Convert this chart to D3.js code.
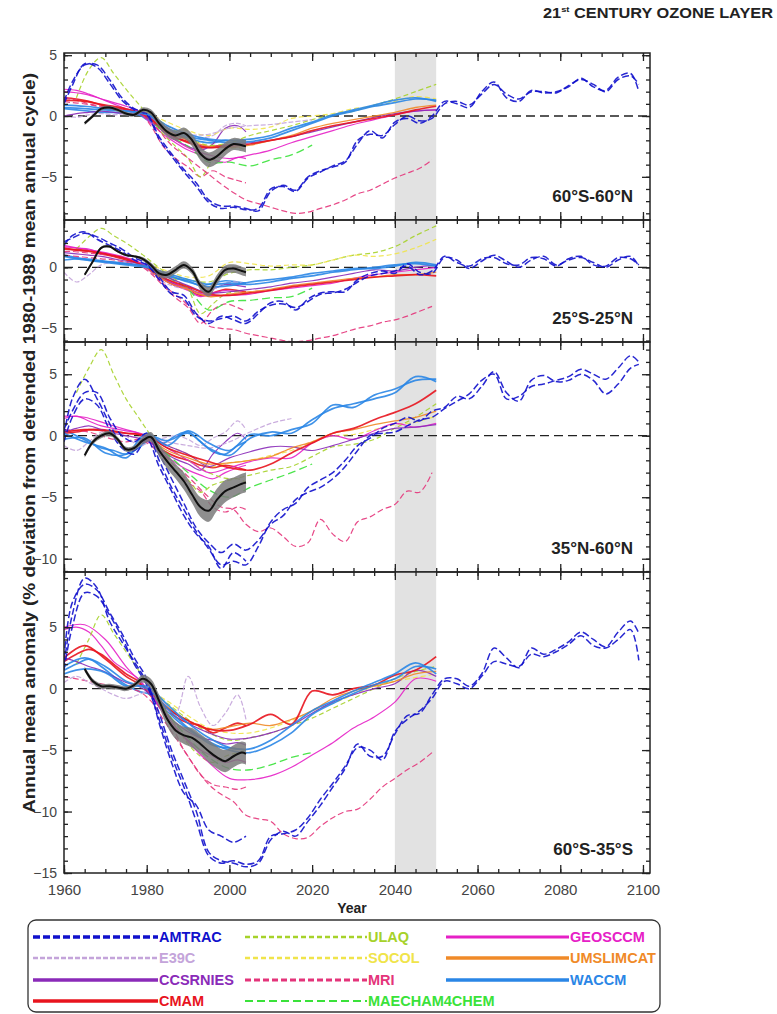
<!DOCTYPE html>
<html>
<head>
<meta charset="utf-8">
<script src="https://cdn.jsdelivr.net/npm/d3@7"></script>
<style>
  body { margin: 0; background: #fff; }
  svg { display: block; font-family: Arial, "Liberation Sans", sans-serif; }
</style>
</head>
<body>
<svg id="chart" width="777" height="1014"></svg>
<script>
"use strict";

// ---- data ----
var models = ['AMTRAC', 'E39C', 'CCSRNIES', 'CMAM', 'ULAQ', 'SOCOL', 'MRI',
  'MAECHAM4CHEM', 'GEOSCCM', 'UMSLIMCAT', 'WACCM'];

var panelNames = ['60°S-60°N', '25°S-25°N', '35°N-60°N', '60°S-35°S'];
var yTickLabels = [[5, 0, -5], [0, -5], [5, 0, -5, -10], [5, 0, -5, -10, -15]];
var xTickLabels = [1960, 1980, 2000, 2020, 2040, 2060, 2080, 2100];

// year grids used by the runs
var yrsHist = [1960,1963,1966,1969,1972,1975,1978,1981,1984,1987,1990,1993,1996,1999,2002,2004];
var yrsProj = [1960,1965,1970,1975,1980,1985,1990,1995,2000,2005,2010,2015,2020,2025,2030,2035,2040,2045,2050];
var yrsLong = [1960,1962,1965,1968,1971,1974,1977,1980,1983,1986,1989,1992,1995,1998,2001,2004,
  2007,2010,2013,2016,2019,2022,2025,2028,2031,2034,2037,2040,2043,2046,2049,2052,2055,2058,
  2061,2064,2067,2070,2073,2076,2079,2082,2085,2088,2091,2094,2097,2099];
var obsYears = [1965,1967,1969,1971,1973,1975,1977,1979,1981,1983,1985,1987,1989,1991,1993,1995,1997,1999,2001,2003,2004];

var N = null;

// 60S-60N
var runs6060 = [
  ['CMAM', 'H', [1.5,1.4,1.2,0.9,0.7,0.5,0.3,-0.3,-1.2,-1.8,-2.1,-2.6,-2.5,-2.4,-2.3,-2.2]],
  ['WACCM', 'H', [0.6,0.5,0.4,0.3,0.3,0.2,0.1,-0.5,-1.1,-1.5,-1.8,-2.1,-2.2,-2.0,-2.1,-2.0]],
  ['GEOSCCM', 'H', [2.2,2.1,1.8,1.4,1.0,0.6,0.3,-0.6,-1.5,-2.2,-2.8,-3.2,-3.6,-3.8,-3.4,-3.5]],
  ['CCSRNIES', 'H', [0.0,0.2,0.3,0.4,0.3,0.2,0.2,-0.4,-1.3,-2.0,-2.5,-2.8,-2.3,-1.0,-0.8,-1.3]],
  ['E39C', 'H', [0.0,-0.1,0.1,0.2,0.1,0.2,0.3,-0.2,-0.8,-1.2,-1.6,-1.8,-1.6,-0.8,-0.6,-0.8]],
  ['MRI', 'H', [1.5,1.3,1.0,0.8,0.6,0.5,0.4,-0.8,-2.5,-3.5,-4.2,-5.0,-4.5,-5.0,-5.3,-5.5]],
  ['ULAQ', 'H', [N,1.5,3.8,4.8,3.5,2.2,1.0,-0.2,-1.5,-2.5,-3.5,-5.0,-3.6,-2.8,-2.6,-2.8]],
  ['ULAQ', 'P', [N,N,N,N,0.3,-0.8,-1.8,-2.4,-2.2,-1.6,-1.2,-0.8,-0.3,0.1,0.4,0.9,1.4,2.0,2.6]],
  ['SOCOL', 'P', [N,N,N,N,0.3,-0.5,-1.2,-1.6,-1.0,-1.1,-0.9,-0.2,0.0,0.2,0.6,0.8,1.2,1.6,1.4]],
  ['E39C', 'P', [N,N,N,N,0.0,-0.8,-1.5,-1.5,-1.0,-0.8,-0.7,-0.5,-0.3]],
  ['MAECHAM4CHEM', 'P', [N,N,N,N,0.0,-1.5,-2.5,-3.8,-3.8,-4.1,-3.6,-3.2,-2.4]],
  ['MRI', 'L', [1.2,1.1,1.0,0.8,0.6,0.5,0.3,0.0,-1.2,-2.4,-3.2,-4.0,-4.8,-5.6,-6.3,-6.9,-7.2,-7.5,-7.8,-8.0,
    -7.9,-7.6,-7.3,-6.9,-6.4,-6.1,-5.6,-5.1,-4.7,-4.3,-3.6]],
  ['GEOSCCM', 'P', [2.0,1.8,1.3,0.8,0.1,-1.5,-2.6,-3.2,-3.5,-3.2,-2.8,-2.2,-1.7,-1.2,-0.7,-0.3,0.1,0.4,0.5]],
  ['CCSRNIES', 'P', [N,N,N,N,0.2,-1.0,-2.0,-2.6,-2.4,-2.2,-2.0,-1.7,-1.3,-0.9,-0.5,-0.1,0.2,0.4,0.5]],
  ['UMSLIMCAT', 'P', [N,N,N,N,0.0,-1.2,-2.0,-2.5,-2.6,-2.4,-2.0,-1.6,-1.0,-0.6,-0.3,0.0,0.3,0.7,0.9]],
  ['CMAM', 'P', [1.3,1.2,0.9,0.6,0.0,-1.4,-2.2,-2.6,-2.5,-2.3,-2.0,-1.7,-1.2,-0.8,-0.5,-0.2,0.1,0.5,0.8]],
  ['WACCM', 'P', [0.9,0.8,0.6,0.4,0.1,-1.0,-1.7,-2.0,-2.2,-2.1,-1.8,-1.2,-0.6,0.0,0.4,0.8,1.1,1.4,1.3]],
  ['WACCM', 'P', [0.7,0.6,0.5,0.4,0.2,-0.8,-1.5,-1.9,-2.0,-1.9,-1.6,-1.0,-0.5,0.1,0.5,0.9,1.3,1.5,1.2]],
  ['AMTRAC', 'L', [1.2,2.8,4.2,4.2,3.0,1.5,0.6,0.2,-1.7,-3.1,-4.4,-5.5,-6.9,-7.4,-7.4,-7.6,-7.8,-6.2,-5.7,-6.1,
    -5.0,-4.5,-4.2,-3.8,-2.0,-1.5,-1.6,-0.7,0.0,-0.4,-0.2,1.0,1.2,0.9,1.8,2.6,1.8,1.4,2.0,2.0,
    1.9,2.5,3.0,2.6,2.0,3.0,3.3,2.6]],
  ['AMTRAC', 'L', [1.0,2.5,4.3,4.0,2.7,1.3,0.5,0.1,-1.9,-3.3,-4.6,-5.8,-7.1,-7.6,-7.5,-7.7,-7.6,-6.0,-5.8,-6.2,
    -5.1,-4.6,-4.1,-3.7,-2.3,-1.2,-1.8,-0.5,-0.2,-0.6,0.0,1.2,1.0,0.7,2.0,2.8,1.5,1.2,2.1,1.9,
    2.0,2.4,3.1,2.4,2.1,3.2,3.5,2.0]]
];
var obs6060 = [-0.6,0.0,0.6,0.7,0.5,0.2,0.1,0.5,0.3,-0.6,-1.3,-1.6,-1.4,-2.0,-3.1,-3.6,-3.3,-2.7,-2.3,-2.4,-2.5];
var err6060 = [0.15,0.15,0.15,0.15,0.15,0.15,0.15,0.2,0.25,0.35,0.4,0.4,0.45,0.5,0.55,0.6,0.6,0.55,0.5,0.5,0.5];

// 25S-25N
var runs2525 = [
  ['CMAM', 'H', [1.6,1.4,1.3,1.1,0.9,0.6,0.3,-0.3,-1.0,-1.5,-1.8,-2.3,-2.1,-1.8,-1.9,-2.0]],
  ['WACCM', 'H', [1.0,0.8,0.6,0.5,0.4,0.3,0.2,-0.2,-0.6,-0.9,-1.1,-1.5,-1.3,-1.1,-1.2,-1.3]],
  ['GEOSCCM', 'H', [1.8,1.6,1.5,1.2,1.0,0.7,0.3,-0.3,-1.0,-1.5,-1.9,-2.4,-2.1,-1.9,-2.0,-2.1]],
  ['CCSRNIES', 'H', [1.2,1.1,1.0,0.9,0.7,0.5,0.3,-0.2,-0.9,-1.4,-1.7,-2.1,-1.8,-1.4,-1.5,-1.6]],
  ['E39C', 'H', [-0.4,-1.2,-0.6,0.2,0.4,0.4,0.2,-0.4,-1.2,-1.6,-1.8,-2.2,-1.8,-1.3,-1.2,-1.4]],
  ['MRI', 'H', [1.0,0.9,0.8,0.7,0.6,0.4,0.2,-0.5,-1.5,-2.5,-3.3,-4.6,-3.5,-3.0,-3.3,-3.6]],
  ['ULAQ', 'H', [N,1.5,2.5,3.2,2.6,2.0,1.3,0.5,-0.3,-1.0,-1.8,-3.8,-3.0,-2.2,-2.0,-2.2]],
  ['ULAQ', 'P', [N,N,N,N,0.0,-0.5,-1.0,-1.2,-0.5,-0.2,-0.2,0.0,0.2,0.6,1.0,1.2,1.7,2.6,3.4]],
  ['SOCOL', 'P', [N,N,N,N,0.3,-0.3,-0.8,-0.7,0.4,0.3,0.1,0.2,0.2,0.6,1.0,0.9,1.1,1.6,2.3]],
  ['MAECHAM4CHEM', 'P', [N,N,N,N,0.0,-0.8,-1.8,-3.5,-2.8,-2.7,-2.5,-2.4,-1.7]],
  ['MRI', 'L', [1.3,1.3,1.2,1.1,1.0,0.8,0.6,0.0,-1.0,-2.0,-2.8,-3.8,-4.8,-5.0,-5.1,-5.4,-5.6,-5.8,-6.0,-6.1,
    -6.0,-5.8,-5.6,-5.3,-5.0,-4.8,-4.5,-4.3,-4.0,-3.6,-3.2]],
  ['GEOSCCM', 'P', [1.7,1.5,1.2,0.8,0.1,-1.0,-1.8,-2.3,-2.3,-2.2,-1.9,-1.7,-1.5,-1.3,-0.9,-0.6,-0.4,-0.2,0.0]],
  ['CCSRNIES', 'P', [N,N,N,N,0.1,-0.8,-1.5,-2.1,-2.0,-1.8,-1.6,-1.3,-1.1,-0.8,-0.5,-0.2,-0.3,0.0,0.2]],
  ['UMSLIMCAT', 'P', [N,N,N,N,0.0,-1.2,-1.8,-2.4,-2.2,-2.0,-1.8,-1.5,-1.3,-1.1,-0.9,-0.8,-0.6,-0.6,-0.4]],
  ['CMAM', 'P', [1.5,1.4,1.1,0.7,0.0,-1.0,-1.6,-2.2,-2.3,-2.1,-1.9,-1.6,-1.4,-1.2,-1.0,-0.8,-0.7,-0.6,-0.7]],
  ['WACCM', 'P', [0.9,0.6,0.4,0.2,0.0,-0.5,-1.0,-1.4,-1.3,-1.4,-1.2,-0.9,-0.7,-0.4,-0.2,0.0,0.2,0.3,0.1]],
  ['WACCM', 'P', [0.6,0.7,0.5,0.3,0.1,-0.6,-1.2,-1.6,-1.5,-1.2,-1.0,-0.8,-0.5,-0.3,-0.1,-0.1,0.1,0.4,0.2]],
  ['AMTRAC', 'L', [2.1,2.4,2.8,2.5,2.0,1.5,0.8,0.3,-0.8,-2.0,-2.3,-3.8,-4.6,-4.0,-4.3,-4.6,-3.8,-2.9,-2.8,-3.5,
    -2.6,-2.1,-2.0,-2.0,-1.0,-0.5,-0.3,-0.5,0.3,-0.4,-0.5,0.8,0.6,-0.1,0.5,1.0,0.5,0.0,0.6,0.9,
    0.2,0.6,0.8,0.4,0.0,0.6,0.9,0.1]],
  ['AMTRAC', 'L', [1.8,2.6,2.9,2.3,1.8,1.3,0.6,0.2,-1.0,-2.2,-2.6,-4.0,-4.4,-4.2,-4.0,-4.4,-3.6,-3.1,-3.0,-3.3,
    -2.8,-2.2,-2.1,-1.8,-1.2,-0.7,-0.5,-0.3,0.1,-0.6,-0.3,0.9,0.4,0.1,0.7,0.8,0.3,0.2,0.8,0.7,
    0.1,0.7,0.9,0.2,0.1,0.8,0.7,0.2]]
];
var obs2525 = [-0.6,0.5,1.6,1.7,1.3,1.0,0.9,0.7,0.2,-0.5,-0.6,-0.2,0.2,-0.3,-1.5,-2.0,-1.0,-0.2,-0.1,-0.3,-0.4];
var err2525 = [0.1,0.1,0.1,0.1,0.1,0.1,0.1,0.15,0.2,0.3,0.3,0.3,0.3,0.3,0.35,0.4,0.4,0.35,0.35,0.35,0.35];

// 35N-60N
var runs3560 = [
  ['WACCM', 'H', [0.5,0.0,-0.5,-1.0,-1.2,-1.5,-1.0,-0.3,-0.6,0.0,0.3,-0.5,-1.3,-1.5,-0.8,-0.5]],
  ['CMAM', 'H', [0.2,0.3,0.5,0.5,0.4,0.2,0.1,-0.5,-1.2,-1.7,-2.0,-2.4,-2.6,-2.4,-2.6,-2.8]],
  ['MRI', 'H', [0.5,0.4,0.3,0.0,-0.3,-0.5,-0.3,-0.8,-1.8,-2.8,-3.8,-4.5,-5.8,-6.2,-5.8,-6.0]],
  ['ULAQ', 'H', [N,3.5,5.5,7.0,5.0,3.0,1.5,0.0,-1.5,-2.8,-3.6,-4.6,-4.0,-3.7,-3.5,-3.8]],
  ['E39C', 'H', [-0.8,-1.2,-0.5,0.3,0.5,0.0,-0.8,-0.5,-0.2,0.0,-0.3,-0.8,-0.2,0.3,1.2,0.5]],
  ['GEOSCCM', 'H', [1.4,1.6,1.2,0.8,0.6,0.4,0.2,-0.6,-1.5,-2.2,-2.8,-3.2,-3.5,-3.0,-2.6,-2.4]],
  ['CCSRNIES', 'H', [0.3,0.6,0.8,0.5,0.2,0.0,-0.2,-0.6,-1.3,-1.9,-2.3,-2.8,-1.5,-0.5,0.2,-0.3]],
  ['ULAQ', 'P', [N,N,N,N,0.0,-1.0,-2.0,-3.0,-3.5,-3.2,-2.8,-2.5,-1.7,-0.9,-0.7,-0.3,0.6,1.5,2.6]],
  ['SOCOL', 'P', [N,N,N,N,0.0,-0.8,-1.5,-2.5,-2.2,-2.0,-1.6,-1.2,-0.5,0.0,0.1,0.5,0.9,1.1,1.6]],
  ['MAECHAM4CHEM', 'P', [N,N,N,N,0.0,-1.5,-3.0,-4.4,-5.0,-4.2,-3.6,-3.0,-2.3]],
  ['E39C', 'P', [N,N,N,N,0.0,-0.5,-0.8,-1.0,-0.5,0.3,1.0,1.4]],
  ['MRI', 'L', [N,N,N,N,N,N,N,0.0,-1.0,-2.2,-3.0,-4.0,-5.0,-5.8,-6.0,-7.2,-7.8,-7.5,-8.2,-9.0,
    -8.7,-6.8,-8.0,-8.6,-7.0,-6.6,-6.0,-5.6,-4.5,-4.6,-3.0]],
  ['GEOSCCM', 'P', [1.6,1.5,1.0,0.5,0.0,-1.0,-2.0,-3.0,-2.6,-2.1,-1.8,-1.8,-0.6,0.0,-0.3,0.4,1.0,0.7,1.0]],
  ['CCSRNIES', 'P', [N,N,N,N,0.2,-0.8,-1.5,-2.5,-1.8,-1.3,-0.9,-0.9,-1.2,-0.8,-0.3,0.2,0.6,0.7,0.9]],
  ['UMSLIMCAT', 'P', [N,N,N,N,0.0,-1.2,-1.8,-2.3,-2.2,-2.0,-1.7,-1.0,-0.5,0.2,0.5,0.9,1.2,1.5,2.0]],
  ['CMAM', 'P', [0.3,0.5,0.4,0.2,0.0,-1.0,-1.6,-2.1,-2.6,-2.8,-2.3,-1.4,-0.6,0.2,0.6,1.3,1.9,2.6,3.7]],
  ['WACCM', 'P', [0.2,-0.5,-1.0,-1.8,0.0,-0.4,0.2,-1.0,-1.6,-0.2,0.3,0.2,1.3,2.2,2.6,3.0,3.5,4.8,4.4]],
  ['WACCM', 'P', [-0.3,-0.2,-1.4,-1.5,0.2,-0.8,0.4,-0.6,-1.2,0.1,0.0,0.5,1.0,2.5,2.3,3.3,3.8,4.5,4.6]],
  ['AMTRAC', 'L', [0.0,3.0,4.6,3.0,1.0,-0.8,-1.2,0.0,-1.5,-3.5,-5.5,-7.5,-8.7,-9.5,-8.8,-9.3,-8.5,-7.2,-6.5,-5.2,
    -4.6,-4.2,-3.5,-2.5,-1.2,0.0,0.2,0.3,0.8,1.3,1.5,2.2,2.8,3.4,4.5,5.0,3.0,3.2,4.0,4.2,
    4.5,4.8,5.4,5.0,4.6,5.5,6.5,6.0]],
  ['AMTRAC', 'L', [0.5,2.0,3.5,3.5,1.5,0.0,-0.5,0.2,-2.0,-4.2,-6.0,-7.8,-9.2,-10.5,-10.2,-10.5,-9.0,-7.0,-6.0,-5.5,
    -4.2,-3.6,-3.0,-2.0,-0.8,-0.2,0.6,1.0,1.5,1.2,2.0,2.3,3.2,3.0,4.0,5.2,3.5,2.8,4.5,4.9,
    4.4,4.5,5.0,4.5,3.4,4.2,5.5,5.8]],
  ['AMTRAC', 'L', [-0.5,1.5,3.0,2.5,0.5,-1.0,-1.5,-0.3,-2.5,-4.5,-6.5,-8.0,-9.0,-10.8,-9.5,-10.2]]
];
var obs3560 = [-1.6,-0.5,0.0,0.2,-0.3,-1.1,-1.0,-0.4,-0.1,-1.2,-2.1,-2.9,-3.7,-4.8,-5.8,-6.1,-5.2,-4.5,-4.2,-3.9,-3.8];
var err3560 = [0.2,0.2,0.2,0.2,0.2,0.2,0.2,0.3,0.4,0.5,0.6,0.6,0.7,0.7,0.8,0.9,0.9,0.9,0.8,0.8,0.8];

// 60S-35S
var runs6035 = [
  ['GEOSCCM', 'H', [4.8,5.0,4.6,3.5,2.2,1.5,0.8,-0.5,-2.0,-3.3,-4.2,-5.0,-5.5,-6.0,-5.8,-6.0]],
  ['CMAM', 'H', [2.2,2.8,3.2,2.8,2.0,1.2,0.6,-0.6,-1.5,-2.3,-2.8,-3.0,-3.6,-3.2,-2.8,-3.0]],
  ['WACCM', 'H', [1.5,2.0,2.4,1.8,1.0,0.3,-0.2,-0.5,-1.5,-2.5,-3.3,-4.0,-4.6,-4.8,-4.9,-5.0]],
  ['ULAQ', 'H', [N,2.0,4.0,6.0,4.5,3.0,1.5,0.0,-1.5,-3.0,-4.5,-5.5,-6.0,-5.5,-5.2,-5.0]],
  ['MRI', 'H', [1.0,0.8,0.6,0.4,0.2,0.0,-0.2,-1.0,-2.5,-4.0,-5.5,-7.0,-7.8,-8.0,-8.2,-8.0]],
  ['E39C', 'H', [0.5,1.0,0.5,0.0,-0.5,-0.8,-0.5,-0.2,-1.5,-2.0,1.0,-1.5,-3.0,-2.0,-0.5,-2.5]],
  ['CCSRNIES', 'H', [2.5,2.2,1.8,1.5,1.0,0.5,0.2,-0.5,-1.8,-2.8,-3.5,-4.0,-4.2,-4.5,-4.4,-4.6]],
  ['ULAQ', 'P', [N,N,N,N,0.0,-1.2,-2.5,-3.6,-4.2,-4.0,-3.6,-3.0,-2.4,-1.6,-0.8,0.0,0.8,1.4,1.8]],
  ['SOCOL', 'P', [N,N,N,N,0.0,-1.0,-2.2,-3.2,-3.6,-3.6,-3.2,-2.6,-1.8,-1.2,-0.5,0.2,0.6,0.9,1.2]],
  ['MAECHAM4CHEM', 'P', [N,N,N,N,0.0,-2.0,-4.0,-5.6,-6.5,-6.6,-6.2,-5.6,-5.2]],
  ['MRI', 'L', [N,N,N,N,N,N,N,0.0,-1.5,-3.0,-5.0,-6.5,-7.8,-8.6,-9.2,-10.3,-10.6,-10.8,-11.8,-12.2,
    -12.1,-11.2,-10.5,-10.0,-9.8,-9.0,-8.0,-7.3,-6.6,-6.0,-5.2]],
  ['GEOSCCM', 'P', [5.0,5.2,4.0,1.8,0.0,-2.3,-4.3,-6.0,-7.3,-7.4,-7.1,-6.4,-5.4,-4.4,-3.2,-2.3,-1.1,0.8,0.6]],
  ['CCSRNIES', 'P', [N,N,N,N,0.2,-1.5,-2.8,-3.6,-4.1,-4.0,-3.6,-3.0,-2.0,-1.1,-0.5,0.0,0.4,1.5,1.0]],
  ['UMSLIMCAT', 'P', [N,N,N,N,0.0,-1.5,-2.6,-3.3,-3.1,-2.8,-3.0,-2.5,-1.8,-0.8,-0.2,0.2,0.6,1.2,1.4]],
  ['CMAM', 'P', [2.5,3.5,2.4,1.0,0.0,-1.6,-2.6,-3.3,-3.4,-2.9,-2.1,-2.9,-0.2,-0.5,0.0,0.3,1.1,1.5,2.6]],
  ['WACCM', 'P', [1.8,2.5,1.8,0.6,0.0,-1.6,-3.2,-4.3,-5.0,-5.2,-4.6,-3.6,-2.1,-1.2,-0.4,0.3,0.8,1.8,1.6]],
  ['WACCM', 'P', [1.2,1.6,1.3,0.2,0.2,-1.3,-2.8,-4.0,-4.8,-4.9,-4.2,-3.0,-1.8,-1.0,-0.2,0.5,1.2,2.1,1.2]],
  ['AMTRAC', 'L', [2.0,6.0,9.0,8.2,5.5,3.8,2.2,0.5,-2.0,-5.0,-7.5,-10.0,-13.3,-14.0,-14.2,-14.5,-14.2,-12.3,-11.6,-12.0,
    -10.8,-9.5,-8.0,-6.5,-4.5,-5.5,-5.5,-3.7,-2.2,-2.0,-0.5,0.8,0.8,0.2,1.2,3.3,2.5,1.7,3.3,2.8,
    3.2,3.8,4.6,4.0,3.4,4.6,5.5,4.5]],
  ['AMTRAC', 'L', [1.5,5.0,7.8,7.5,6.0,4.2,2.0,0.3,-2.5,-5.5,-8.0,-10.8,-13.6,-14.2,-14.0,-14.3,-14.0,-12.0,-11.8,-11.5,
    -10.5,-9.0,-7.7,-6.3,-4.8,-5.0,-5.8,-3.5,-2.5,-1.8,-0.8,0.6,0.4,0.0,1.0,2.2,2.0,1.8,2.8,2.6,
    3.0,3.6,4.3,3.5,3.3,4.0,4.8,2.3]],
  ['AMTRAC', 'L', [2.5,7.0,8.5,8.0,6.2,4.5,2.5,0.8,-2.8,-6.0,-8.5,-9.5,-11.5,-12.0,-12.5,-12.0]]
];
var obs6035 = [1.6,0.6,0.2,0.2,0.1,0.0,0.3,0.8,0.4,-1.0,-2.5,-3.4,-3.8,-4.0,-4.5,-5.1,-5.6,-5.9,-5.5,-5.2,-5.3];
var err6035 = [0.2,0.2,0.2,0.2,0.2,0.2,0.2,0.3,0.4,0.5,0.6,0.7,0.7,0.8,0.8,0.9,0.9,0.9,0.9,0.9,0.9];

// ---- styles ----
var modelStyle = {
  AMTRAC:       { color: '#1010cc', dash: '7,3', width: 1.5, lw: 3.5 },
  E39C:         { color: '#c4a4da', dash: '5,2', width: 1.2, lw: 2.5 },
  CCSRNIES:     { color: '#8a2ab8', dash: null,  width: 1.2, lw: 3.5 },
  CMAM:         { color: '#e8141e', dash: null,  width: 1.7, lw: 3.5 },
  ULAQ:         { color: '#a6d22a', dash: '5,3', width: 1.2, lw: 2.5 },
  SOCOL:        { color: '#f0e44a', dash: '5,3', width: 1.2, lw: 2.5 },
  MRI:          { color: '#e4347a', dash: '6,3', width: 1.2, lw: 3 },
  MAECHAM4CHEM: { color: '#3ae23a', dash: '8,4', width: 1.3, lw: 2 },
  GEOSCCM:      { color: '#e620c6', dash: null,  width: 1.2, lw: 3 },
  UMSLIMCAT:    { color: '#f08a28', dash: null,  width: 1.3, lw: 3.5 },
  WACCM:        { color: '#2a86e6', dash: null,  width: 1.7, lw: 3.5 }
};
var legendCols = [['AMTRAC', 'E39C', 'CCSRNIES', 'CMAM'],
  ['ULAQ', 'SOCOL', 'MRI', 'MAECHAM4CHEM'],
  ['GEOSCCM', 'UMSLIMCAT', 'WACCM']];

var grids = { H: yrsHist, P: yrsProj, L: yrsLong };
var panelRuns = [runs6060, runs2525, runs3560, runs6035];
var panelObs = [obs6060, obs2525, obs3560, obs6035];
var panelErr = [err6060, err2525, err3560, err6035];
var panelDomains = [[-8.55, 5.18], [-6.12, 3.88], [-11.08, 7.62], [-15, 9.49]];
var panelTop = [53, 220, 342, 572];
var panelBottom = [220, 342, 572, 873];

var left = 64, right = 650;
var X = d3.scaleLinear().domain([1960, 2101.7]).range([left, right]);
var FONT = 'Arial, "Liberation Sans", sans-serif';

function _draw_panel(svg, i) {
  var Y = d3.scaleLinear().domain(panelDomains[i]).range([panelBottom[i], panelTop[i]]);
  var g = svg.append('g').attr('class', 'panel');

  g.append('clipPath').attr('id', 'clip' + i)
    .append('rect')
    .attr('x', left).attr('y', panelTop[i])
    .attr('width', right - left).attr('height', panelBottom[i] - panelTop[i]);

  // 2040-2050 band
  g.append('rect')
    .attr('x', X(2040)).attr('y', panelTop[i])
    .attr('width', X(2050) - X(2040)).attr('height', panelBottom[i] - panelTop[i])
    .attr('fill', '#e2e2e2');

  g.append('line')
    .attr('x1', left).attr('x2', right)
    .attr('y1', Y(0)).attr('y2', Y(0))
    .attr('stroke', '#222').attr('stroke-width', 1.3)
    .attr('stroke-dasharray', '9,5');

  var line = d3.line()
    .defined(function (d) { return d[1] != null; })
    .x(function (d) { return X(d[0]); })
    .y(function (d) { return Y(d[1]); })
    .curve(d3.curveCatmullRom.alpha(0.5));

  var lines = g.append('g').attr('clip-path', 'url(#clip' + i + ')');
  panelRuns[i].forEach(function (run) {
    var st = modelStyle[run[0]];
    var yrs = grids[run[1]];
    var pts = run[2].map(function (v, k) { return [yrs[k], v]; });
    lines.append('path')
      .datum(pts)
      .attr('d', line)
      .attr('fill', 'none')
      .attr('stroke', st.color)
      .attr('stroke-width', st.width)
      .attr('stroke-opacity', 0.9)
      .attr('stroke-dasharray', st.dash);
  });

  // observations with uncertainty
  var obs = obsYears.map(function (yr, k) { return [yr, panelObs[i][k], panelErr[i][k]]; });
  var band = d3.area()
    .x(function (d) { return X(d[0]); })
    .y0(function (d) { return Y(d[1] - d[2]); })
    .y1(function (d) { return Y(d[1] + d[2]); })
    .curve(d3.curveCatmullRom.alpha(0.5));
  lines.append('path').datum(obs).attr('d', band)
    .attr('fill', '#7a7a7a').attr('fill-opacity', 0.85);
  lines.append('path').datum(obs).attr('d', line)
    .attr('fill', 'none').attr('stroke', '#111').attr('stroke-width', 2);

  // axes: inward ticks on all sides
  var minorX = d3.range(1960, 2101, 5);
  var minorY = d3.range(Math.ceil(panelDomains[i][0]), Math.floor(panelDomains[i][1]) + 1);
  var majorY = minorY.filter(function (v) { return v % 5 === 0; });

  function addAxis(axis, tx, ty, labels) {
    var a = g.append('g')
      .attr('transform', 'translate(' + tx + ',' + ty + ')')
      .call(axis);
    a.select('.domain').remove();
    a.selectAll('line').attr('stroke', '#222').attr('stroke-width', 1.3);
    if (!labels) a.selectAll('text').remove();
    return a;
  }

  addAxis(d3.axisBottom(X).tickValues(minorX).tickSize(-4), 0, panelBottom[i], false);
  addAxis(d3.axisTop(X).tickValues(minorX).tickSize(-4), 0, panelTop[i], false);
  addAxis(d3.axisTop(X).tickValues(xTickLabels).tickSize(-8), 0, panelTop[i], false);
  var xb = addAxis(d3.axisBottom(X).tickValues(xTickLabels).tickSize(-8)
    .tickPadding(11).tickFormat(d3.format('d')), 0, panelBottom[i], i === 3);
  xb.selectAll('text').attr('font-size', 15).attr('fill', '#444').attr('font-family', FONT);

  addAxis(d3.axisLeft(Y).tickValues(minorY).tickSize(-4), left, 0, false);
  addAxis(d3.axisRight(Y).tickValues(minorY).tickSize(-4), right, 0, false);
  addAxis(d3.axisRight(Y).tickValues(majorY).tickSize(-8), right, 0, false);
  var ya = addAxis(d3.axisLeft(Y).tickValues(yTickLabels[i]).tickSize(-8).tickPadding(7), left, 0, true);
  ya.selectAll('text').attr('font-size', 14).attr('fill', '#444').attr('font-family', FONT);

  g.append('rect')
    .attr('x', left).attr('y', panelTop[i])
    .attr('width', right - left).attr('height', panelBottom[i] - panelTop[i])
    .attr('fill', 'none').attr('stroke', '#222').attr('stroke-width', 1.5);

  g.append('text')
    .attr('x', 633).attr('y', panelBottom[i] - 18)
    .attr('text-anchor', 'end')
    .attr('font-size', 17).attr('font-weight', 'bold').attr('fill', '#222')
    .text(panelNames[i]);
}

function _draw_legend(svg) {
  var lg = svg.append('g').attr('class', 'legend');
  lg.append('rect')
    .attr('x', 28).attr('y', 920).attr('width', 632).attr('height', 92)
    .attr('rx', 8).attr('fill', 'none').attr('stroke', '#333').attr('stroke-width', 1.3);
  var colX = [[33, 158], [245, 367], [446, 569]];
  var rowY = [937, 958, 980, 1001];
  legendCols.forEach(function (col, c) {
    col.forEach(function (name, r) {
      var st = modelStyle[name];
      lg.append('line')
        .attr('x1', colX[c][0]).attr('x2', colX[c][1])
        .attr('y1', rowY[r]).attr('y2', rowY[r])
        .attr('stroke', st.color).attr('stroke-width', st.lw)
        .attr('stroke-dasharray', st.dash);
      lg.append('text')
        .attr('x', colX[c][1] + 1).attr('y', rowY[r])
        .attr('dy', '0.36em')
        .attr('font-size', 14.5).attr('font-weight', 'bold')
        .attr('fill', st.color)
        .text(name);
    });
  });
}

function init_plot() {
  var svg = d3.select('#chart');
  svg.append('rect').attr('width', 777).attr('height', 1014).attr('fill', '#fff');

  var title = svg.append('text')
    .attr('x', 543).attr('y', 18)
    .attr('font-size', 14).attr('font-weight', 'bold').attr('fill', '#222')
    .attr('textLength', 230).attr('lengthAdjust', 'spacingAndGlyphs');
  title.append('tspan').text('21');
  title.append('tspan').attr('dy', -6).attr('font-size', 8).text('st');
  title.append('tspan').attr('dy', 6).text(' CENTURY OZONE LAYER');

  for (var i = 0; i < 4; i++) _draw_panel(svg, i);

  svg.append('text')
    .attr('transform', 'translate(35,443) rotate(-90)')
    .attr('text-anchor', 'middle')
    .attr('font-size', 16).attr('font-weight', 'bold').attr('fill', '#222')
    .attr('textLength', 740).attr('lengthAdjust', 'spacingAndGlyphs')
    .text('Annual mean anomaly (% deviation from detrended 1980-1989 mean annual cycle)');

  svg.append('text')
    .attr('x', 352).attr('y', 913).attr('text-anchor', 'middle')
    .attr('font-size', 14).attr('font-weight', 'bold').attr('fill', '#222')
    .text('Year');

  _draw_legend(svg);
}

init_plot();
</script>
</body>
</html>
